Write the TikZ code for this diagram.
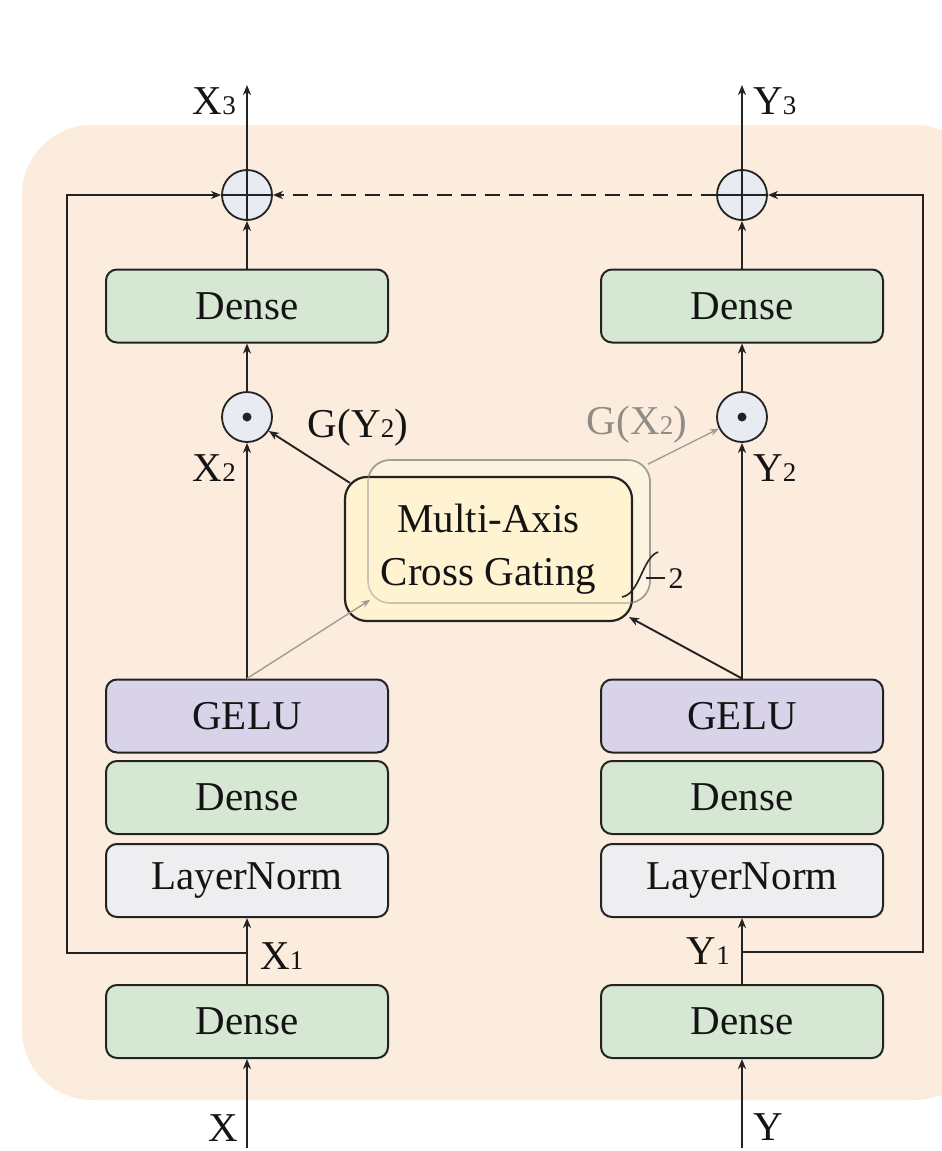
\documentclass[tikz,border=0pt]{standalone}
\usepackage{fontspec}
\setmainfont{Liberation Serif}
\usetikzlibrary{arrows.meta,calc}

\definecolor{bgpeach}{RGB}{252,236,222}
\definecolor{densegreen}{RGB}{214,232,211}
\definecolor{gelupurple}{RGB}{217,211,234}
\definecolor{lngray}{RGB}{238,238,241}
\definecolor{gatefill}{RGB}{255,243,210}
\definecolor{circfill}{RGB}{232,236,242}
\definecolor{linecol}{RGB}{35,35,35}
\definecolor{ghostcol}{RGB}{160,156,150}

% small index digit set on the baseline
\newcommand\idx[1]{{\fontsize{27}{27}\selectfont #1}}

\tikzset{
  layer/.style={draw=linecol, line width=2pt, rounded corners=11pt,
    minimum width=282pt, minimum height=73pt, inner sep=0pt,
    font=\fontsize{41}{45}\selectfont, text=black!92},
  densebox/.style={layer, fill=densegreen},
  gelubox/.style={layer, fill=gelupurple},
  normbox/.style={layer, fill=lngray},
  gate/.style={draw=linecol, line width=2.2pt, rounded corners=22pt,
    fill=gatefill, minimum width=287pt, minimum height=144pt,
    align=center, font=\fontsize{41}{53}\selectfont, text=black!92},
  ghostbox/.style={draw=ghostcol, line width=1.6pt, rounded corners=22pt,
    minimum width=282pt, minimum height=143pt},
  opnode/.style={circle, draw=linecol, line width=1.8pt, fill=circfill,
    minimum size=50pt, inner sep=0pt},
  otimes/.style={opnode, path picture={
    \fill[linecol] (path picture bounding box.center) circle (4.5pt);}},
  oplus/.style={opnode, path picture={
    \draw[linecol, line width=1.8pt]
      (path picture bounding box.north) -- (path picture bounding box.south)
      (path picture bounding box.west) -- (path picture bounding box.east);}},
  conn/.style={draw=linecol, line width=1.9pt,
    -{Stealth[length=10pt, width=8pt, inset=3pt]}},
  gconn/.style={draw=ghostcol, line width=1.4pt,
    -{Stealth[length=9pt, width=7pt, inset=3pt]}},
  lbl/.style={font=\fontsize{41}{45}\selectfont, text=black!92, inner sep=0pt},
}

\begin{document}
\begin{tikzpicture}[x=1pt, y=-1pt]
\useasboundingbox (0,0) rectangle (942,1151);

% block background
\begin{scope}
  \clip (0,0) rectangle (942,1151);
  \fill[bgpeach, rounded corners=70pt] (22,125) rectangle (985,1100);
\end{scope}

% ---------- left branch ----------
\node[densebox] (ld0) at (247,1021.5) {Dense};
\node[normbox]  (lln) at (247,880.5) {LayerNorm};
\node[densebox] (ld1) at (247,797.5) {Dense};
\node[gelubox]  (lgl) at (247,716) {GELU};
\node[otimes]   (lmul) at (247,417) {};
\node[densebox] (ld2) at (247,306) {Dense};
\node[oplus]    (ladd) at (247,195) {};

% ---------- right branch ----------
\node[densebox] (rd0) at (742,1021.5) {Dense};
\node[normbox]  (rln) at (742,880.5) {LayerNorm};
\node[densebox] (rd1) at (742,797.5) {Dense};
\node[gelubox]  (rgl) at (742,716) {GELU};
\node[otimes]   (rmul) at (742,417) {};
\node[densebox] (rd2) at (742,306) {Dense};
\node[oplus]    (radd) at (742,195) {};

% ---------- cross gating block (stacked twice) ----------
\node[ghostbox, fill=gatefill!60, fill opacity=0.6] (ghost) at (509,531.5) {};
\node[gate] (mac) at (488.5,549) {Multi-Axis\\Cross Gating};
\node[ghostbox, draw opacity=0.55] at (ghost) {};
\draw[linecol, line width=1.6pt] (622,597) .. controls (640,594) and (642,558) .. (658,552);
\draw[linecol, line width=1.6pt] (646,578) -- (665,578);
\node[font=\fontsize{30}{30}\selectfont, text=black!92, inner sep=0pt] (rep) at (676,579) {2};

% ---------- inputs / outputs ----------
\coordinate (xin)  at (247,1148);
\coordinate (yin)  at (742,1148);
\coordinate (xout) at (247,85);
\coordinate (yout) at (742,85);
\coordinate (xj)   at (247,953);
\coordinate (yj)   at (742,952);
\coordinate (lcb)  at (67,953);
\coordinate (lct)  at (67,195);
\coordinate (rcb)  at (923,952);
\coordinate (rct)  at (923,195);

% left vertical flow
\draw[conn] (xin) -- (ld0);
\draw[conn] (ld0) -- (lln);
\draw[conn] (lgl) -- (lmul);
\draw[conn] (lmul) -- (ld2);
\draw[conn] (ld2) -- (ladd);
\draw[conn] (ladd) -- (xout);
\draw[conn] (xj) -- (lcb) -- (lct) -- (ladd);

% right vertical flow
\draw[conn] (yin) -- (rd0);
\draw[conn] (rd0) -- (rln);
\draw[conn] (rgl) -- (rmul);
\draw[conn] (rmul) -- (rd2);
\draw[conn] (rd2) -- (radd);
\draw[conn] (radd) -- (yout);
\draw[conn] (yj) -- (rcb) -- (rct) -- (radd);

% exchange between the two branches
\draw[conn, dash pattern=on 15pt off 9pt] (radd) -- (ladd);
\draw[conn] (rgl.north) -- ($(mac.south east)+(-4,-5)$);
\draw[conn] ($(mac.north west)+(6,7)$) -- (lmul);
\draw[gconn] (lgl.north) -- ($(ghost.south west)+(3,-4)$);
\draw[gconn] ($(ghost.north east)+(-3,5)$) -- (rmul);

% ---------- labels ----------
\node[lbl, anchor=east] (lx3) at (236,101) {X\idx{3}};
\node[lbl, anchor=west] (ly3) at (753,101) {Y\idx{3}};
\node[lbl, anchor=east] (lx2) at (236,468) {X\idx{2}};
\node[lbl, anchor=west] (ly2) at (753,468) {Y\idx{2}};
\node[lbl] (lgy) at (358,428) {G(Y\idx{2})};
\node[lbl, text=ghostcol!90!black] (lgx) at (637,425) {G(X\idx{2})};
\node[lbl, anchor=west] (lx1) at (260,956) {X\idx{1}};
\node[lbl, anchor=east] (ly1) at (730,951) {Y\idx{1}};
\node[lbl, anchor=east] (lx)  at (238,1128) {X};
\node[lbl, anchor=west] (ly)  at (753,1127) {Y};
\end{tikzpicture}
\end{document}
